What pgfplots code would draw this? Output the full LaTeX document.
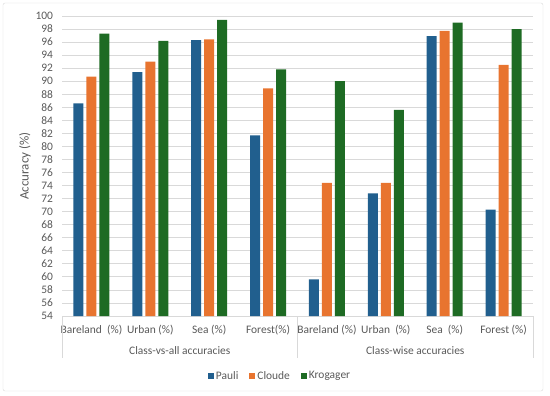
\documentclass[border=0pt]{standalone}
\usepackage{pgfplots}
\pgfplotsset{compat=1.18}
\usepackage{fontspec}
\setmainfont{Carlito}
\definecolor{pauli}{HTML}{215F8E}
\definecolor{cloude}{HTML}{E8742F}
\definecolor{krog}{HTML}{1E6B24}
\definecolor{gridc}{HTML}{D9D9D9}
\definecolor{txt}{HTML}{595959}
\begin{document}
\begin{tikzpicture}[x=1bp,y=1bp]
\useasboundingbox (-62,-79) rectangle (488,316);
\draw[gridc, rounded corners=2bp] (-59,-75) rectangle (481,313);
\begin{axis}[
  scale only axis,
  width=471bp, height=300bp,
  at={(0,0)}, anchor=south west,
  ybar=3bp, bar width=10bp,
  xmin=-0.5, xmax=7.5,
  ymin=54, ymax=100,
  ytick={54,56,...,100},
  xtick={0,...,7},
  xticklabels={Bareland~~(\%),Urban (\%),Sea (\%),Forest(\%),Bareland (\%),Urban~~(\%),Sea~~(\%),Forest (\%)},
  major tick length=0pt,
  axis line style={draw=none},
  ymajorgrids, grid style={gridc, line width=0.8pt},
  tick label style={font=\fontsize{11.5}{13}\selectfont, text=txt},
  /pgf/number format/assume math mode=true,
  yticklabel style={xshift=-5.5bp},
  xticklabel style={anchor=center, yshift=-14bp},
  every axis y label/.style={at={(axis description cs:-0.0787,0.5)}, rotate=90, anchor=center},
  ylabel={\fontsize{13}{15}\selectfont\color{txt}Accuracy (\%)},
  clip=false,
  legend columns=3,
  legend style={draw=none, fill=none, at={(0.463,-0.2)}, anchor=center,
    font=\fontsize{11.5}{13}\selectfont, text=txt,
    /tikz/every even column/.append style={column sep=9bp}},
  legend image code/.code={\fill[#1] (0bp,-3bp) rectangle (6bp,3bp);},
]
\addplot[fill=pauli, draw=none] coordinates {(0,86.6) (1,91.4) (2,96.3) (3,81.7) (4,59.6) (5,72.8) (6,96.9) (7,70.3)};
\addplot[fill=cloude, draw=none] coordinates {(0,90.7) (1,93.0) (2,96.4) (3,88.9) (4,74.4) (5,74.4) (6,97.7) (7,92.5)};
\addplot[fill=krog, draw=none] coordinates {(0,97.3) (1,96.2) (2,99.4) (3,91.8) (4,90.0) (5,85.6) (6,99.0) (7,98.0)};
\legend{Pauli,Cloude,Krogager}
\draw[gridc, line width=0.8pt] (rel axis cs:0,0) -- ++(0pt,-42bp);
\draw[gridc, line width=0.8pt] (rel axis cs:0.5,0) -- ++(0pt,-42bp);
\draw[gridc, line width=0.8pt] (rel axis cs:1,0) -- ++(0pt,-42bp);
\node[font=\fontsize{11.5}{13}\selectfont, text=txt] at ([yshift=-35bp]axis cs:1.5,54) {Class-vs-all accuracies};
\node[font=\fontsize{11.5}{13}\selectfont, text=txt] at ([yshift=-35bp]axis cs:5.5,54) {Class-wise accuracies};
\end{axis}
\end{tikzpicture}
\end{document}
